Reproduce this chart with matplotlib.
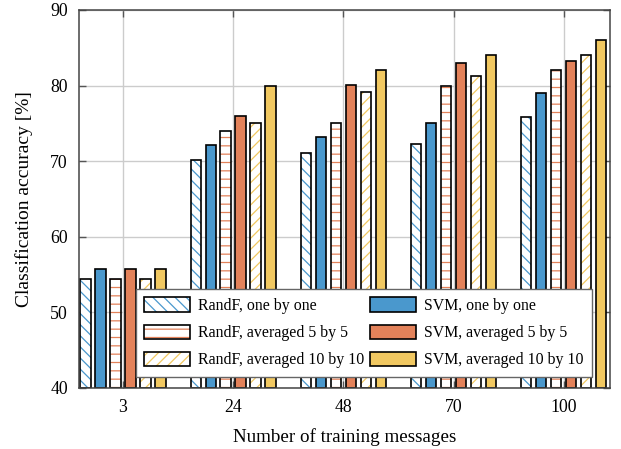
import matplotlib
matplotlib.use("Agg")
import matplotlib.pyplot as plt
from matplotlib.patches import Patch
from matplotlib.legend_handler import HandlerTuple
import numpy as np

plt.rcParams["font.family"] = ["Liberation Serif", "DejaVu Serif"]
plt.rcParams["hatch.linewidth"] = 0.9

categories = ["3", "24", "48", "70", "100"]

randf_one = [54.4, 70.1, 71.1, 72.3, 75.9]
svm_one = [55.8, 72.1, 73.2, 75.0, 79.0]
randf_avg5 = [54.4, 74.0, 75.0, 80.0, 82.0]
svm_avg5 = [55.8, 76.0, 80.1, 83.0, 83.3]
randf_avg10 = [54.4, 75.1, 79.1, 81.3, 84.0]
svm_avg10 = [55.8, 80.0, 82.1, 84.0, 86.0]

blue = "#4a98cd"
orange = "#e3825a"
yellow = "#f1c861"

# (label, values, colour, hatch) -- hatch None means a solid bar
series = [
    ("RandF, one by one", randf_one, blue, "\\\\\\"),
    ("SVM, one by one", svm_one, blue, None),
    ("RandF, averaged 5 by 5", randf_avg5, orange, "--"),
    ("SVM, averaged 5 by 5", svm_avg5, orange, None),
    ("RandF, averaged 10 by 10", randf_avg10, yellow, "///"),
    ("SVM, averaged 10 by 10", svm_avg10, yellow, None),
]

fig = plt.figure(figsize=(6.21, 4.49), dpi=100)
ax = fig.add_axes([0.1272, 0.1359, 0.855, 0.8419])

x = np.arange(len(categories))
step = 0.136
width = 0.095
handles = {}
for i, (label, vals, color, hatch) in enumerate(series):
    pos = x + (i - 2.5) * step
    heights = np.array(vals) - 40
    if hatch:
        # hatch drawn in the series colour, outline in black on top
        ax.bar(pos, heights, width, bottom=40, color="white",
               edgecolor=color, hatch=hatch, linewidth=0, zorder=3)
        ax.bar(pos, heights, width, bottom=40, color="none",
               edgecolor="black", linewidth=1.2, zorder=4)
        handles[label] = (Patch(facecolor="white", edgecolor=color, hatch=hatch, linewidth=0),
                          Patch(facecolor="none", edgecolor="black", linewidth=1.2))
    else:
        ax.bar(pos, heights, width, bottom=40, color=color,
               edgecolor="black", linewidth=1.2, zorder=3)
        handles[label] = Patch(facecolor=color, edgecolor="black", linewidth=1.2)

ax.set_xlim(-0.4, 4.42)
ax.set_ylim(40, 90)
ax.set_xticks(x)
ax.set_xticklabels(categories)
ax.set_yticks([40, 50, 60, 70, 80, 90])
ax.tick_params(direction="in", length=5, width=1, color="#555555",
               top=True, right=True, labelsize=12.8, pad=8)
ax.grid(True, color="#cccccc", linewidth=1, zorder=0)
ax.set_axisbelow(True)
for sp in ax.spines.values():
    sp.set_color("#444444")
    sp.set_linewidth(1.1)
    sp.set_zorder(5)

ax.set_xlabel("Number of training messages", fontsize=13.7, labelpad=9)
ax.set_ylabel("Classification accuracy [%]", fontsize=14, labelpad=12)

order = [0, 2, 4, 1, 3, 5]
labels = [series[k][0] for k in order]
leg = ax.legend([handles[l] for l in labels], labels, ncol=2,
                loc="lower right", bbox_to_anchor=(0.966, 0.029),
                borderaxespad=0,
                handler_map={tuple: HandlerTuple(ndivide=1)},
                fontsize=11.4, handlelength=2.9, handleheight=1.05,
                handletextpad=0.5, columnspacing=0.35, labelspacing=0.65,
                borderpad=0.55, fancybox=False, framealpha=1,
                edgecolor="#666666")
leg.get_frame().set_linewidth(1.0)
leg.set_zorder(6)

fig.savefig("out.png", dpi=100)
